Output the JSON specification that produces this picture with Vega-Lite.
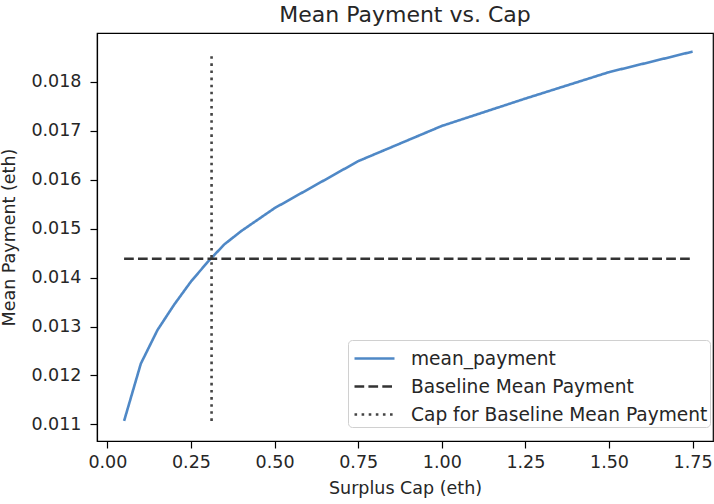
{
  "$schema": "https://vega.github.io/schema/vega-lite/v6.json",
  "width": 616,
  "height": 408,
  "autosize": "none",
  "padding": {"left": 97, "top": 33, "right": 1, "bottom": 63},
  "background": "white",
  "config": {
    "font": "DejaVu Sans",
    "view": {"stroke": "#000", "strokeWidth": 1.2},
    "axis": {"grid": false, "domainColor": "#000", "domainWidth": 1.2, "tickColor": "#000", "tickWidth": 1.2, "tickSize": 7, "labelFontSize": 17.5, "labelColor": "#262626", "titleFontSize": 17.5, "titleFontWeight": "normal", "titleColor": "#262626", "labelFont": "DejaVu Sans", "titleFont": "DejaVu Sans"}
  },
  "title": {"text": "Mean Payment vs. Cap", "fontSize": 22, "fontWeight": "normal", "color": "#262626", "offset": 6, "font": "DejaVu Sans"},
  "data": {
    "values": [
      {"series": "mean_payment", "i": 0, "cap": 0.05, "payment": 0.01107},
      {"series": "mean_payment", "i": 1, "cap": 0.1, "payment": 0.01224},
      {"series": "mean_payment", "i": 2, "cap": 0.15, "payment": 0.01293},
      {"series": "mean_payment", "i": 3, "cap": 0.2, "payment": 0.01345},
      {"series": "mean_payment", "i": 4, "cap": 0.25, "payment": 0.01392},
      {"series": "mean_payment", "i": 5, "cap": 0.3, "payment": 0.01432},
      {"series": "mean_payment", "i": 6, "cap": 0.35, "payment": 0.01468},
      {"series": "mean_payment", "i": 7, "cap": 0.4, "payment": 0.01495},
      {"series": "mean_payment", "i": 8, "cap": 0.5, "payment": 0.01542},
      {"series": "mean_payment", "i": 9, "cap": 0.75, "payment": 0.01638},
      {"series": "mean_payment", "i": 10, "cap": 1.0, "payment": 0.0171},
      {"series": "mean_payment", "i": 11, "cap": 1.25, "payment": 0.01766},
      {"series": "mean_payment", "i": 12, "cap": 1.5, "payment": 0.0182},
      {"series": "mean_payment", "i": 13, "cap": 1.75, "payment": 0.01862},
      {"series": "Baseline Mean Payment", "i": 0, "cap": 0.05, "payment": 0.014386},
      {"series": "Baseline Mean Payment", "i": 1, "cap": 1.75, "payment": 0.014386},
      {"series": "Cap for Baseline Mean Payment", "i": 0, "cap": 0.3116, "payment": 0.01107},
      {"series": "Cap for Baseline Mean Payment", "i": 1, "cap": 0.3116, "payment": 0.01855}
    ]
  },
  "mark": {"type": "line", "strokeWidth": 2.6, "clip": true},
  "encoding": {
    "x": {"field": "cap", "type": "quantitative", "title": "Surplus Cap (eth)",
      "scale": {"domain": [-0.031, 1.811], "nice": false, "zero": false},
      "axis": {"values": [0, 0.25, 0.5, 0.75, 1.0, 1.25, 1.5, 1.75], "format": ".2f", "labelPadding": 5, "titlePadding": 9}},
    "y": {"field": "payment", "type": "quantitative", "title": "Mean Payment (eth)",
      "scale": {"domain": [0.01066, 0.019], "nice": false, "zero": false},
      "axis": {"values": [0.011, 0.012, 0.013, 0.014, 0.015, 0.016, 0.017, 0.018], "format": ".3f", "labelPadding": 9, "titlePadding": 12}},
    "order": {"field": "i", "type": "quantitative"},
    "color": {"field": "series", "type": "nominal",
      "scale": {"domain": ["mean_payment", "Baseline Mean Payment", "Cap for Baseline Mean Payment"], "range": ["#4f88c6", "#333333", "#444444"]},
      "legend": {"title": null, "orient": "none", "legendX": 251, "legendY": 307, "fillColor": "white", "strokeColor": "#d0d0d0", "cornerRadius": 4, "padding": 2, "labelFontSize": 18.6, "labelColor": "#262626", "labelLimit": 400, "symbolType": "M-1.333,0H1.333", "symbolSize": 900, "symbolOffset": 8, "symbolStrokeWidth": 2.6, "rowPadding": 1, "labelOffset": 20, "labelFont": "DejaVu Sans"}},
    "strokeDash": {"field": "series", "type": "nominal",
      "scale": {"domain": ["mean_payment", "Baseline Mean Payment", "Cap for Baseline Mean Payment"], "range": [[1, 0], [9.7, 4.2], [2.6, 4.5]]},
      "legend": null}
  }
}
